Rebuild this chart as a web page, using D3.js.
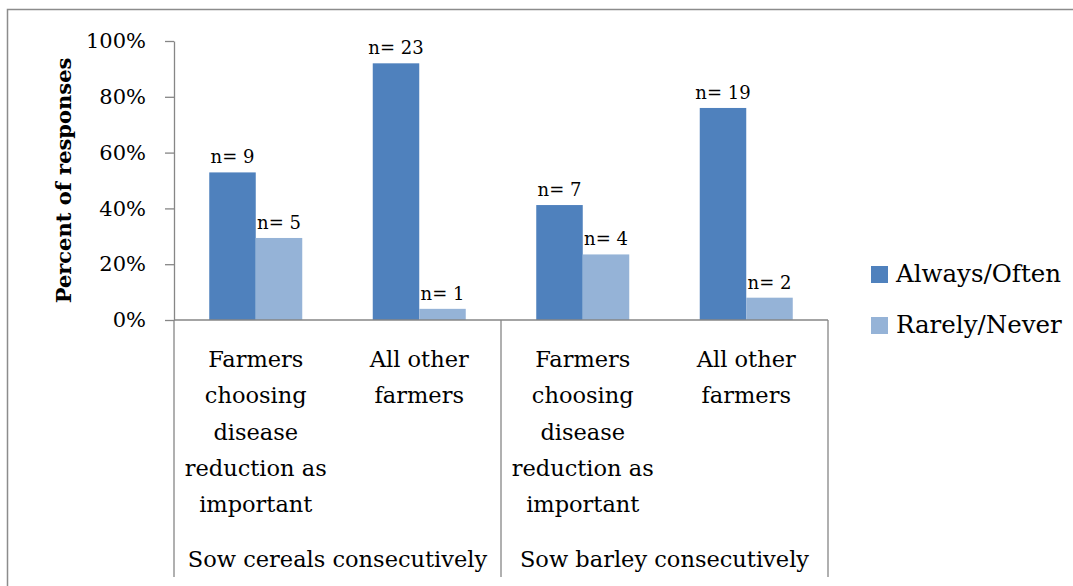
<!DOCTYPE html>
<html>
<head>
<meta charset="utf-8">
<script src="https://cdn.jsdelivr.net/npm/d3@7"></script>
<style>
  html, body { margin: 0; padding: 0; background: #fff; }
  svg { display: block; }
  text { font-family: "DejaVu Serif", "Liberation Serif", serif; fill: #000; }
</style>
</head>
<body>
<svg id="chart" width="1073" height="586"></svg>
<script>
// Share of farmers answering each frequency, by group
const categories = [
  "Farmers choosing disease reduction as important",
  "All other farmers",
  "Farmers choosing disease reduction as important",
  "All other farmers"
];
const groups = ["Sow cereals consecutively", "Sow barley consecutively"];
const seriesNames = ["Always/Often", "Rarely/Never"];
const alwaysOften = [0.529, 0.92, 0.412, 0.76];
const rarelyNever = [0.294, 0.04, 0.235, 0.08];
const alwaysCounts = ["n= 9", "n= 23", "n= 7", "n= 19"];
const rarelyCounts = ["n= 5", "n= 1", "n= 4", "n= 2"];
const yTicks = [0, 0.2, 0.4, 0.6, 0.8, 1.0];
const colors = ["#4F81BD", "#95B3D7"];

const seriesValues = [alwaysOften, rarelyNever];
const seriesLabels = [alwaysCounts, rarelyCounts];

const svg = d3.select("#chart");
const axisColor = "#868686";

// outer chart frame
svg.append("rect")
  .attr("x", 7.5).attr("y", 9.5)
  .attr("width", 1200).attr("height", 700)
  .attr("fill", "none").attr("stroke", "#8c8c8c").attr("stroke-width", 1.5);

const plot = { left: 174, right: 828, top: 41, bottom: 320 };

const x0 = d3.scaleBand()
  .domain(d3.range(categories.length))
  .range([plot.left, plot.right])
  .paddingInner(0).paddingOuter(0);

const x1 = d3.scaleBand()
  .domain(d3.range(seriesNames.length))
  .range([0, x0.bandwidth()])
  .paddingInner(0).paddingOuter(0.758);

const y = d3.scaleLinear().domain([0, 1]).range([plot.bottom, plot.top]);

// y axis
const yAxis = d3.axisLeft(y)
  .tickValues(yTicks)
  .tickFormat(d3.format(".0%"))
  .tickSizeInner(9).tickSizeOuter(0).tickPadding(19);

const gy = svg.append("g")
  .attr("transform", `translate(${plot.left},0)`)
  .call(yAxis);
gy.select(".domain").attr("stroke", axisColor).attr("stroke-width", 1.3);
gy.selectAll(".tick line").attr("stroke", axisColor).attr("stroke-width", 1.3);
gy.selectAll(".tick text")
  .attr("font-family", "DejaVu Serif")
  .attr("font-size", 21)
  .attr("fill", "#000");

// y axis title
svg.append("text")
  .attr("transform", `translate(71,${(plot.top + plot.bottom) / 2}) rotate(-90)`)
  .attr("text-anchor", "middle")
  .attr("font-size", 21)
  .attr("font-weight", "bold")
  .text("Percent of responses");

// bars
seriesValues.forEach((vals, s) => {
  const g = svg.append("g");
  g.selectAll("rect")
    .data(vals)
    .join("rect")
    .attr("x", (d, i) => x0(i) + x1(s))
    .attr("y", d => y(d))
    .attr("width", x1.bandwidth())
    .attr("height", d => y(0) - y(d))
    .attr("fill", colors[s]);
  g.selectAll("text")
    .data(vals)
    .join("text")
    .attr("x", (d, i) => x0(i) + x1(s) + x1.bandwidth() / 2)
    .attr("y", d => y(d) - 9)
    .attr("text-anchor", "middle")
    .attr("font-size", 18)
    .text((d, i) => seriesLabels[s][i]);
});

// x axis line
svg.append("line")
  .attr("x1", plot.left).attr("x2", plot.right)
  .attr("y1", y(0)).attr("y2", y(0))
  .attr("stroke", axisColor).attr("stroke-width", 1.3);

// group dividers below the axis
const perGroup = categories.length / groups.length;
const dividerX = d3.range(groups.length + 1).map(k =>
  k < groups.length ? x0(k * perGroup) : x0(categories.length - 1) + x0.bandwidth());
svg.selectAll("line.divider")
  .data(dividerX)
  .join("line")
  .attr("class", "divider")
  .attr("x1", d => d).attr("x2", d => d)
  .attr("y1", y(0)).attr("y2", 577)
  .attr("stroke", axisColor).attr("stroke-width", 1.3);

// wrap a label into lines no wider than maxWidth
function wrapLines(label, maxWidth, fontSize) {
  const probe = svg.append("text").attr("font-size", fontSize).attr("visibility", "hidden");
  const words = label.split(" ");
  const lines = [];
  let line = [];
  words.forEach(w => {
    const trial = line.concat(w).join(" ");
    probe.text(trial);
    if (line.length && probe.node().getComputedTextLength() > maxWidth) {
      lines.push(line.join(" "));
      line = [w];
    } else {
      line.push(w);
    }
  });
  if (line.length) lines.push(line.join(" "));
  probe.remove();
  return lines;
}

// category labels
const catFont = 22.5;
categories.forEach((c, i) => {
  const lines = wrapLines(c, 155, catFont);
  const t = svg.append("text")
    .attr("text-anchor", "middle")
    .attr("font-size", catFont);
  lines.forEach((ln, k) => {
    t.append("tspan")
      .attr("x", x0(i) + x0.bandwidth() / 2)
      .attr("y", 367 + k * 36.3)
      .text(ln);
  });
});

// group labels
groups.forEach((gname, k) => {
  svg.append("text")
    .attr("x", (dividerX[k] + dividerX[k + 1]) / 2)
    .attr("y", 567)
    .attr("text-anchor", "middle")
    .attr("font-size", catFont)
    .text(gname);
});

// legend
const legend = svg.append("g").attr("transform", "translate(871,266)");
seriesNames.forEach((name, s) => {
  const row = legend.append("g").attr("transform", `translate(0,${s * 51})`);
  row.append("rect")
    .attr("width", 17).attr("height", 17)
    .attr("fill", colors[s]);
  row.append("text")
    .attr("x", 25).attr("y", 16)
    .attr("font-size", 24.5)
    .text(name);
});
</script>
</body>
</html>
